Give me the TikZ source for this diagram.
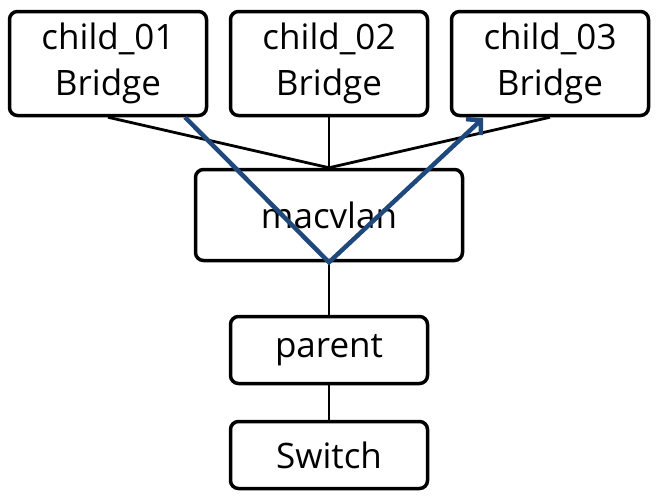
\documentclass[tikz,border=0pt]{standalone}
\usepackage{fontspec}
\setmainfont{Open Sans}
\usetikzlibrary{arrows.meta}
\definecolor{arrowblue}{RGB}{31,73,125}

\begin{document}
\begin{tikzpicture}[x=1pt,y=1pt,node distance=221pt,line width=2.8pt,
  box node/.style={draw,rounded corners=8pt,line width=3.5pt,fill=white,align=center,
    minimum width=197pt,font=\fontsize{35}{46}\selectfont}]
  \useasboundingbox (0,0) rectangle (661,-501);
  \node[box node,minimum height=104pt] (c1) at (108,-63.5) {child\_01\\Bridge};
  \node[box node,minimum height=104pt] (c2) [right of=c1] {child\_02\\Bridge};
  \node[box node,minimum height=104pt] (c3) [right of=c2] {child\_03\\Bridge};
  \node[box node,minimum width=267pt,minimum height=91pt] (mac) [node distance=151.5pt,below of=c2] {macvlan};
  \node[box node,minimum height=67pt] (par) [node distance=135pt,below of=mac] {parent};
  \node[box node,minimum height=67pt] (sw) [node distance=105pt,below of=par] {Switch};

  \path (c1.south) edge (mac.north)
    (c2.south) edge (mac.north)
    (c3.south) edge (mac.north)
    (mac.south) edge (par.north)
    (par.south) edge (sw.north);

  \coordinate (in) at ([xshift=77pt]c1.south);
  \coordinate (out) at ([xshift=-67pt,yshift=-1pt]c3.south);
  \draw[arrowblue,line width=4.5pt,-{Straight Barb[length=10pt,width=22pt]}]
    (in) -- (mac.south) -- (out);
\end{tikzpicture}
\end{document}
